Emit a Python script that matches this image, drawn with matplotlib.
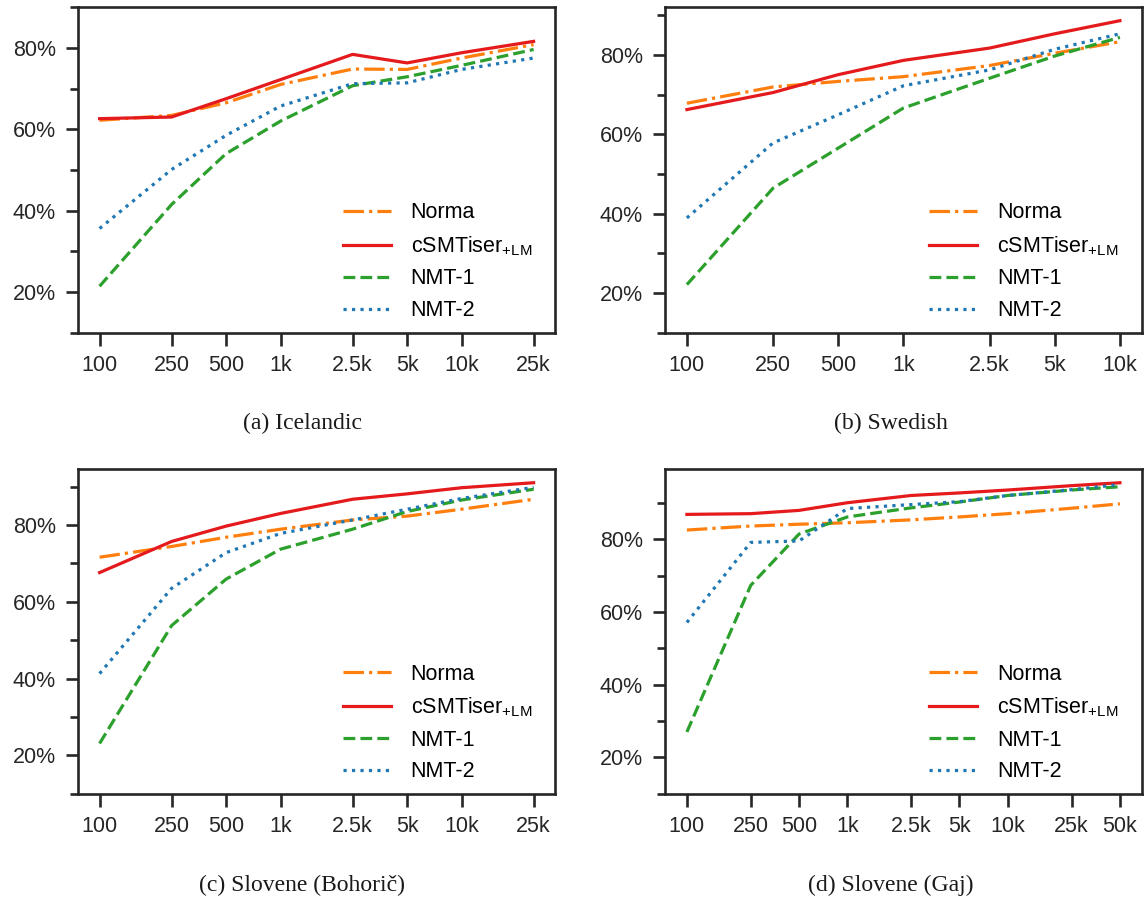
import matplotlib
matplotlib.use('Agg')
import matplotlib.pyplot as plt
from matplotlib.ticker import MultipleLocator, PercentFormatter, FixedLocator, NullLocator

plt.rcParams['font.family'] = ['Liberation Sans', 'DejaVu Sans']
plt.rcParams['mathtext.default'] = 'regular'

# training sizes and tick labels
sizes_a = [100, 250, 500, 1000, 2500, 5000, 10000, 25000]
sizes_b = [100, 250, 500, 1000, 2500, 5000, 10000]
sizes_d = [100, 250, 500, 1000, 2500, 5000, 10000, 25000, 50000]
labels_a = ['100', '250', '500', '1k', '2.5k', '5k', '10k', '25k']
labels_b = ['100', '250', '500', '1k', '2.5k', '5k', '10k']
labels_d = ['100', '250', '500', '1k', '2.5k', '5k', '10k', '25k', '50k']

# (a) Icelandic
norma_a = [62.2, 63.4, 66.5, 71.0, 74.8, 74.7, 77.5, 80.8]
csmt_a = [62.6, 63.0, 67.5, 72.2, 78.4, 76.3, 78.8, 81.6]
nmt1_a = [21.4, 41.5, 54.0, 62.0, 70.7, 72.9, 75.7, 79.6]
nmt2_a = [35.6, 50.1, 58.5, 65.7, 71.2, 71.4, 74.7, 77.5]

# (b) Swedish
norma_b = [67.8, 71.9, 73.3, 74.5, 77.3, 80.4, 83.3]
csmt_b = [66.2, 70.5, 75.0, 78.6, 81.7, 85.3, 88.6]
nmt1_b = [22.1, 46.4, 56.5, 66.6, 74.1, 79.7, 84.4]
nmt2_b = [38.9, 57.8, 64.9, 72.2, 76.2, 81.4, 85.3]

# (c) Slovene (Bohoric)
norma_c = [71.6, 74.4, 76.8, 78.9, 81.3, 82.3, 84.1, 86.7]
csmt_c = [67.6, 75.7, 79.7, 83.0, 86.7, 88.1, 89.7, 91.0]
nmt1_c = [23.1, 53.8, 65.9, 73.7, 78.9, 83.5, 86.5, 89.3]
nmt2_c = [41.3, 63.5, 72.8, 77.8, 81.3, 84.1, 86.9, 89.8]

# (d) Slovene (Gaj)
norma_d = [82.5, 83.6, 84.1, 84.5, 85.3, 86.1, 87.0, 88.5, 89.7]
csmt_d = [86.8, 87.0, 87.9, 90.0, 92.0, 92.7, 93.5, 94.7, 95.5]
nmt1_d = [27.0, 67.3, 81.4, 86.1, 88.6, 90.2, 92.0, 93.5, 94.4]
nmt2_d = [57.1, 79.1, 79.5, 88.4, 89.5, 90.3, 92.0, 93.6, 95.0]

captions = ['(a) Icelandic', '(b) Swedish', '(c) Slovene (Bohorič)', '(d) Slovene (Gaj)']

panels = [
    (sizes_a, labels_a, norma_a, csmt_a, nmt1_a, nmt2_a, (10, 90)),
    (sizes_b, labels_b, norma_b, csmt_b, nmt1_b, nmt2_b, (10, 92)),
    (sizes_a, labels_a, norma_c, csmt_c, nmt1_c, nmt2_c, (10, 94.5)),
    (sizes_d, labels_d, norma_d, csmt_d, nmt1_d, nmt2_d, (10, 99.2)),
]

# axes boxes in figure fractions
boxes = [
    [0.068, 0.630, 0.417, 0.362],
    [0.581, 0.630, 0.416, 0.362],
    [0.068, 0.117, 0.417, 0.361],
    [0.581, 0.117, 0.416, 0.361],
]
cap_pos = [(302 / 1145, 1 - 423 / 899), (891 / 1145, 1 - 423 / 899),
           (302 / 1145, 1 - 885 / 899), (891 / 1145, 1 - 885 / 899)]

spine_c = '#262626'
fig = plt.figure(figsize=(11.45, 8.99), dpi=100)

for i, (x, xl, norma, csmt, nmt1, nmt2, ylim) in enumerate(panels):
    ax = fig.add_axes(boxes[i])
    ax.plot(x, norma, color='#ff7f0e', ls='-.', lw=2.3, label='Norma')
    ax.plot(x, csmt, color='#e41a1c', ls='-', lw=2.3, label='cSMTiser$_{+LM}$')
    ax.plot(x, nmt1, color='#2ca02c', ls='--', lw=2.3, label='NMT-1')
    ax.plot(x, nmt2, color='#1f77b4', ls=':', lw=2.3, label='NMT-2')
    ax.set_xscale('log')
    ax.xaxis.set_major_locator(FixedLocator(x))
    ax.set_xticklabels(xl)
    ax.xaxis.set_minor_locator(NullLocator())
    ax.set_ylim(*ylim)
    ax.yaxis.set_major_locator(MultipleLocator(20))
    ax.yaxis.set_minor_locator(MultipleLocator(10))
    ax.yaxis.set_major_formatter(PercentFormatter(decimals=0))
    for s in ax.spines.values():
        s.set_linewidth(1.9)
        s.set_color(spine_c)
    ax.tick_params(which='major', length=9, width=1.9, color=spine_c,
                   labelsize=15.5, labelcolor=spine_c, pad=7)
    ax.tick_params(which='minor', length=5.5, width=1.9, color=spine_c)
    ax.legend(loc='lower right', bbox_to_anchor=(0.9916, -0.0245), frameon=False,
              fontsize=15.5, handlelength=2.23, handletextpad=0.93, labelspacing=0.5)
    fig.text(cap_pos[i][0], cap_pos[i][1], captions[i], ha='center', va='center',
             fontsize=17, family='Liberation Serif', color='#1a1a1a')

plt.savefig('out.png', dpi=100)
plt.close()
